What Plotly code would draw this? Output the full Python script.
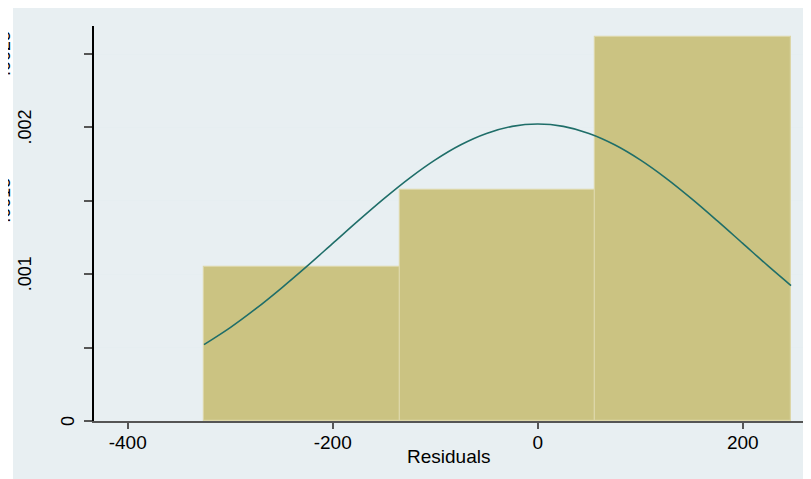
import plotly.graph_objects as go

# Histogram of residuals (density scale)
bin_edges = [-325.6, -134.7, 56.2, 247.1]
densities = [0.0010477, 0.0015715, 0.002619]

# Normal density overlay
curve_x = [-325.6, -300, -275, -250, -225, -200, -175, -150, -125, -100, -75, -50, -25,
           0, 25, 50, 75, 100, 125, 150, 175, 200, 225, 247.1]
curve_y = [0.000520, 0.000636, 0.000765, 0.000906, 0.001055, 0.001210, 0.001365, 0.001515,
           0.001655, 0.001779, 0.001882, 0.001959, 0.002007, 0.002023, 0.002007, 0.001959,
           0.001882, 0.001779, 0.001655, 0.001515, 0.001365, 0.001210, 0.001055, 0.000923]

x_ticks = [-400, -200, 0, 200]
y_ticks = [0, 0.0005, 0.001, 0.0015, 0.002, 0.0025]
y_labels_main = {0: "0", 0.001: ".001", 0.002: ".002"}
y_labels_clipped = {0.0015: ".0015", 0.0025: ".0025"}

x_title = "Residuals"

centers = [(a + b) / 2 for a, b in zip(bin_edges[:-1], bin_edges[1:])]
widths = [b - a for a, b in zip(bin_edges[:-1], bin_edges[1:])]

FONT = "Liberation Sans, Arial, sans-serif"
# page body has an 8px margin, so the figure frame starts at (8, 8) in the window
W, H = 803, 471
L, R, T, B = 86, 8, 18, 58
pw, ph = W - L - R, H - T - B

def px_to_paper_x(px):
    return (px - L) / pw

def py_to_paper_y(py):
    return (H - B - py) / ph

fig = go.Figure()
fig.add_trace(go.Bar(
    x=centers, y=densities, width=widths,
    marker=dict(color="#cbc382", line=dict(color="#dcd6a8", width=1.2)),
    hoverinfo="skip", showlegend=False,
))
fig.add_trace(go.Scatter(
    x=curve_x, y=curve_y, mode="lines",
    line=dict(color="#1f6e69", width=1.6, shape="spline"),
    hoverinfo="skip", showlegend=False,
))

annotations = []
for v, t in y_labels_main.items():
    cx = 60 if t == "0" else 17
    annotations.append(dict(
        xref="paper", yref="y", x=px_to_paper_x(cx), y=v, text=t, showarrow=False,
        textangle=-90, font=dict(family=FONT, size=18, color="#000000"),
        xanchor="center", yanchor="middle",
    ))
for v, t in y_labels_clipped.items():
    annotations.append(dict(
        xref="paper", yref="y", x=px_to_paper_x(-4), y=v, text=t, showarrow=False,
        textangle=-90, font=dict(family=FONT, size=18, color="#000000"),
        xanchor="center", yanchor="middle",
    ))
annotations.append(dict(
    xref="paper", yref="paper", x=0.5, y=py_to_paper_y(448), text=x_title,
    showarrow=False, font=dict(family=FONT, size=19, color="#000000"),
    xanchor="center", yanchor="middle",
))

fig.update_layout(
    width=W, height=H,
    margin=dict(l=L, r=R, t=T, b=B, pad=0),
    paper_bgcolor="#ffffff",
    plot_bgcolor="#ffffff",
    bargap=0,
    annotations=annotations,
    shapes=[dict(
        type="rect", xref="paper", yref="paper", layer="below",
        x0=px_to_paper_x(5), x1=px_to_paper_x(W + 2),
        y0=py_to_paper_y(H + 2), y1=py_to_paper_y(0),
        fillcolor="#e8eff2", line=dict(width=0),
    )],
    xaxis=dict(
        range=[-432.9, 258.8], tickvals=x_ticks, ticktext=[str(v) for v in x_ticks],
        ticks="outside", ticklen=6, tickcolor="#555555", tickwidth=1.5,
        showline=True, linecolor="#555555", linewidth=1.5,
        showgrid=False, zeroline=False, ticklabelstandoff=-3,
        tickfont=dict(family=FONT, size=19, color="#000000"),
    ),
    yaxis=dict(
        range=[0, 0.002691], tickvals=y_ticks, showticklabels=False,
        ticks="outside", ticklen=8, tickcolor="#555555", tickwidth=1.5,
        showline=True, linecolor="#000000", linewidth=1.5,
        showgrid=True, gridcolor="#e6eef1", gridwidth=1,
        zeroline=False,
    ),
)

fig.write_html("out.html")
